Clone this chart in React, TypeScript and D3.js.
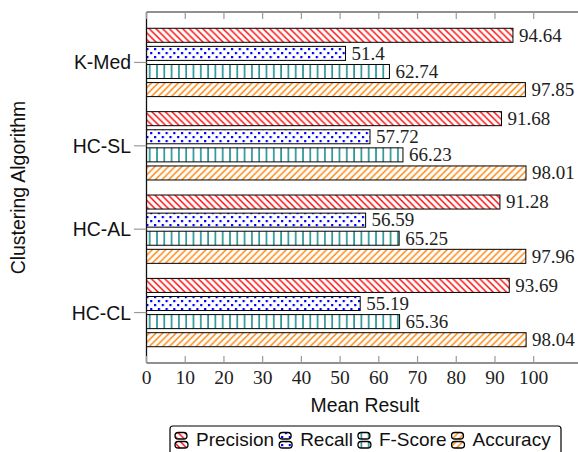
import React from "react";
import * as d3 from "d3";

// Clustering results per algorithm (percent)
const categories = ["K-Med", "HC-SL", "HC-AL", "HC-CL"];
const precision = [94.64, 91.68, 91.28, 93.69];
const recall = [51.4, 57.72, 56.59, 55.19];
const fscore = [62.74, 66.23, 65.25, 65.36];
const accuracy = [97.85, 98.01, 97.96, 98.04];
const seriesNames = ["Precision", "Recall", "F-Score", "Accuracy"];
const xTicks = [0, 10, 20, 30, 40, 50, 60, 70, 80, 90, 100];

const W = 578;
const H = 452;
const plotLeft = 146.5;
const plotTop = 12;
const plotBottom = 363;
const xMax = 115;
const pxPerUnit = 3.872;

const SANS = "'Liberation Sans', Arial, Helvetica, sans-serif";
const SERIF = "'Liberation Serif', 'Times New Roman', serif";

const patternIds = ["pat-prec", "pat-rec", "pat-f", "pat-acc"];

function textWidth(text: string, font: string): number {
  const c = document.createElement("canvas");
  const ctx = c.getContext("2d");
  if (!ctx) return text.length * 10;
  ctx.font = font;
  return ctx.measureText(text).width;
}

export default function App() {
  const values = [precision, recall, fscore, accuracy];

  const x = d3
    .scaleLinear()
    .domain([0, xMax])
    .range([plotLeft, plotLeft + pxPerUnit * xMax]);

  const y = d3
    .scalePoint<string>()
    .domain(categories)
    .range([plotTop, plotBottom])
    .padding(0.605);

  const inner = d3
    .scaleBand<string>()
    .domain(seriesNames)
    .range([-36.2, 36.2])
    .paddingInner(0.225)
    .paddingOuter(0.1125);

  // legend layout: icon, then label, entries packed left to right
  const legendFontSize = 19;
  const legendFont = `${legendFontSize}px 'Liberation Sans'`;
  let lx = 175;
  const legendItems = seriesNames.map((name, i) => {
    const item = { name, i, x: lx };
    lx += 21 + textWidth(name, legendFont) + 5;
    return item;
  });

  const iconBar = (ix: number, iy: number, w: number, h: number, pid: string) => (
    <>
      <rect x={ix} y={iy} width={w} height={h} rx={h / 2} fill="#fff" />
      <rect
        x={ix}
        y={iy}
        width={w}
        height={h}
        rx={h / 2}
        fill={`url(#${pid})`}
        stroke="#000"
        strokeWidth={1.3}
      />
    </>
  );

  return (
    <svg
      width={W}
      height={H}
      style={{ position: "absolute", left: 0, top: 0, background: "#fff" }}
    >
      <defs>
        <pattern id="pat-prec" patternUnits="userSpaceOnUse" width={6.7} height={6.7}>
          <path
            d="M0,0 L6.7,6.7 M-1,5.7 L1,7.7 M5.7,-1 L7.7,1"
            stroke="#ff0000"
            strokeWidth={1.4}
          />
        </pattern>
        <pattern id="pat-rec" patternUnits="userSpaceOnUse" width={7.7} height={8}>
          <rect x={0} y={0} width={2.2} height={2.2} fill="#0000ff" />
          <rect x={3.85} y={4} width={2.2} height={2.2} fill="#0000ff" />
        </pattern>
        <pattern id="pat-f" patternUnits="userSpaceOnUse" width={7.3} height={40}>
          <rect x={3} y={-1} width={1.4} height={42} fill="#008080" />
        </pattern>
        <pattern id="pat-acc" patternUnits="userSpaceOnUse" width={6.7} height={6.7}>
          <path
            d="M0,6.7 L6.7,0 M-1,1 L1,-1 M5.7,7.7 L7.7,5.7"
            stroke="#ff8000"
            strokeWidth={1.4}
          />
        </pattern>
      </defs>

      {/* bars */}
      {categories.map((cat, ci) => {
        const cy = y(cat) as number;
        return (
          <g key={cat}>
            {seriesNames.map((s, si) => {
              const v = values[si][ci];
              const top = cy + (inner(s) as number);
              const bw = inner.bandwidth();
              const x0 = x(0);
              const x1 = x(v);
              return (
                <g key={s}>
                  <rect x={x0} y={top} width={x1 - x0} height={bw} fill="#fff" />
                  <rect
                    x={x0}
                    y={top}
                    width={x1 - x0}
                    height={bw}
                    fill={`url(#${patternIds[si]})`}
                    stroke="#000"
                    strokeWidth={1}
                  />
                  <text
                    x={x1 + 6}
                    y={top + bw / 2 + 6.3}
                    fontFamily={SERIF}
                    fontSize={19}
                    fill="#222"
                  >
                    {String(v)}
                  </text>
                </g>
              );
            })}
          </g>
        );
      })}

      {/* axis frame */}
      <line x1={plotLeft} y1={plotTop} x2={W + 20} y2={plotTop} stroke="#222" strokeWidth={1.2} />
      <line x1={plotLeft} y1={plotBottom} x2={W + 20} y2={plotBottom} stroke="#222" strokeWidth={1.2} />
      <line x1={plotLeft} y1={plotTop} x2={plotLeft} y2={plotBottom} stroke="#111" strokeWidth={1.3} />

      {/* x ticks */}
      {xTicks.map((t) => (
        <g key={t}>
          <line x1={x(t)} x2={x(t)} y1={plotBottom} y2={plotBottom - 7} stroke="#999" strokeWidth={1.2} />
          <line x1={x(t)} x2={x(t)} y1={plotTop} y2={plotTop + 7} stroke="#999" strokeWidth={1.2} />
          <text
            x={x(t)}
            y={384}
            textAnchor="middle"
            fontFamily={SERIF}
            fontSize={19.5}
            fill="#222"
          >
            {t}
          </text>
        </g>
      ))}

      {/* y ticks */}
      {categories.map((cat) => {
        const cy = y(cat) as number;
        return (
          <g key={cat}>
            <line x1={134} x2={plotLeft} y1={cy} y2={cy} stroke="#999" strokeWidth={1.2} />
            <text
              x={131}
              y={cy + 7}
              textAnchor="end"
              fontFamily={SANS}
              fontSize={19.4}
              fill="#111"
            >
              {cat}
            </text>
          </g>
        );
      })}

      {/* axis titles */}
      <text x={365} y={412} textAnchor="middle" fontFamily={SANS} fontSize={19.4} fill="#111">
        Mean Result
      </text>
      <text
        transform={`translate(25, ${(plotTop + plotBottom) / 2}) rotate(-90)`}
        textAnchor="middle"
        fontFamily={SANS}
        fontSize={19.4}
        fill="#111"
      >
        Clustering Algorithm
      </text>

      {/* legend */}
      <rect x={170} y={426} width={391} height={50} rx={3} fill="#fff" stroke="#000" strokeWidth={1.2} />
      {legendItems.map((it) => (
        <g key={it.name}>
          {iconBar(it.x, 432.5, 12, 6.5, patternIds[it.i])}
          {iconBar(it.x, 441.5, 13, 6.5, patternIds[it.i])}
          <text x={it.x + 21} y={446} fontFamily={SANS} fontSize={legendFontSize} fill="#111">
            {it.name}
          </text>
        </g>
      ))}
    </svg>
  );
}
